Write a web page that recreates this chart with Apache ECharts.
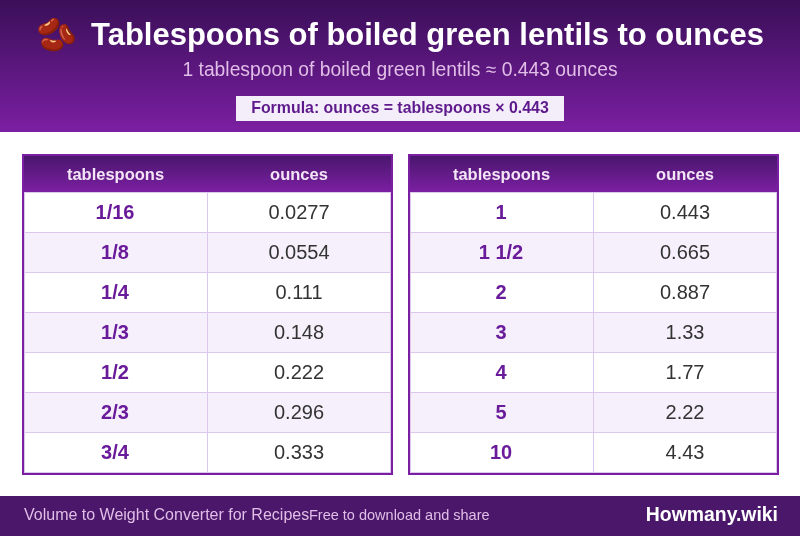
<!DOCTYPE html>
<html>
<head>
<meta charset="utf-8">
<style>html,body{margin:0;padding:0;background:#fff}#main{width:800px;height:536px}</style>
<script src="https://cdn.jsdelivr.net/npm/echarts@6/dist/echarts.min.js"></script>
</head>
<body>
<div id="main"></div>
<script>
var titleIcon = '🫘';
var titleText = 'Tablespoons of boiled green lentils to ounces';
var subtitleText = '1 tablespoon of boiled green lentils ≈ 0.443 ounces';
var formulaText = 'Formula: ounces = tablespoons × 0.443';
var columnNames = ['tablespoons', 'ounces'];
var leftTablespoons = ['1/16', '1/8', '1/4', '1/3', '1/2', '2/3', '3/4'];
var leftOunces = ['0.0277', '0.0554', '0.111', '0.148', '0.222', '0.296', '0.333'];
var rightTablespoons = ['1', '1 1/2', '2', '3', '4', '5', '10'];
var rightOunces = ['0.443', '0.665', '0.887', '1.33', '1.77', '2.22', '4.43'];
var footerLeft = 'Volume to Weight Converter for Recipes';
var footerMiddle = 'Free to download and share';
var footerRight = 'Howmany.wiki';

var FONT = '"Liberation Sans", Arial, sans-serif';
var PURPLE = '#7b1fa2';
var LINE = '#dcc8ec';

function vGrad(top, bottom) {
  return new echarts.graphic.LinearGradient(0, 0, 0, 1, [
    { offset: 0, color: top },
    { offset: 1, color: bottom }
  ]);
}

function rect(x, y, w, h, fill) {
  return { type: 'rect', shape: { x: x, y: y, width: w, height: h }, style: { fill: fill }, silent: true };
}

function label(x, y, str, size, weight, color, align) {
  return {
    type: 'text', x: x, y: y, silent: true,
    style: {
      text: str, fill: color, fontFamily: FONT, fontSize: size, fontWeight: weight,
      align: align || 'center', verticalAlign: 'middle'
    }
  };
}

// one table: 2px border, gradient head, 7 striped rows with 1px inner lines
function buildTable(x, col1, col2) {
  var out = [];
  var w = 371, top = 154, h = 321;
  var innerX = x + 2, innerW = w - 4, splitX = x + 185;
  out.push(rect(x, top, w, h, PURPLE));
  out.push(rect(innerX, top + 2, innerW, h - 4, '#ffffff'));
  out.push(rect(innerX, top + 2, innerW, 36, vGrad('#4a176e', '#7b1fa2')));
  out.push(label(x + 93.5, top + 21, columnNames[0], 16.5, 'bold', '#f3e5f5'));
  out.push(label(x + 277, top + 21, columnNames[1], 16.5, 'bold', '#f3e5f5'));
  out.push(rect(innerX, top + 38, innerW, 1, LINE));
  col1.forEach(function (name, i) {
    var rowY = top + 39 + i * 40;
    if (i % 2 === 1) out.push(rect(innerX, rowY, innerW, 39, '#f5f0fb'));
    out.push(rect(innerX, rowY + 39, innerW, 1, LINE));
    out.push(rect(splitX, rowY, 1, 40, LINE));
    out.push(label(x + 93, rowY + 20, name, 20, 'bold', '#6a1b9a'));
    out.push(label(x + 277, rowY + 20, col2[i], 20, 'normal', '#333333'));
  });
  out.push(rect(innerX, top + 38, 1, 281, LINE));
  out.push(rect(innerX + innerW - 1, top + 38, 1, 281, LINE));
  return out;
}

var elements = [
  rect(0, 0, 800, 132, vGrad('#3a0f58', '#7b1fa2')),
  label(56, 36.5, titleIcon, 33, 'normal', '#ffffff'),
  label(91, 36.5, titleText, 31, 'bold', '#ffffff', 'left'),
  label(400, 71, subtitleText, 19.3, 'normal', '#e1bee7'),
  rect(236, 96, 328, 25, '#f3eefa'),
  label(400, 109, formulaText, 15.9, 'bold', '#5e1a8c'),
  rect(0, 496, 800, 40, '#4a176a'),
  label(24, 516, footerLeft, 16, 'normal', '#e1bee7', 'left'),
  label(309, 516, footerMiddle, 14.5, 'normal', '#e1bee7', 'left'),
  label(778, 515.5, footerRight, 19.4, 'bold', '#ffffff', 'right')
];
elements = elements.concat(buildTable(22, leftTablespoons, leftOunces));
elements = elements.concat(buildTable(408, rightTablespoons, rightOunces));

var chart = echarts.init(document.getElementById('main'), null, { renderer: 'canvas' });
chart.setOption({
  animation: false,
  backgroundColor: '#ffffff',
  graphic: { elements: elements }
});
</script>
</body>
</html>
